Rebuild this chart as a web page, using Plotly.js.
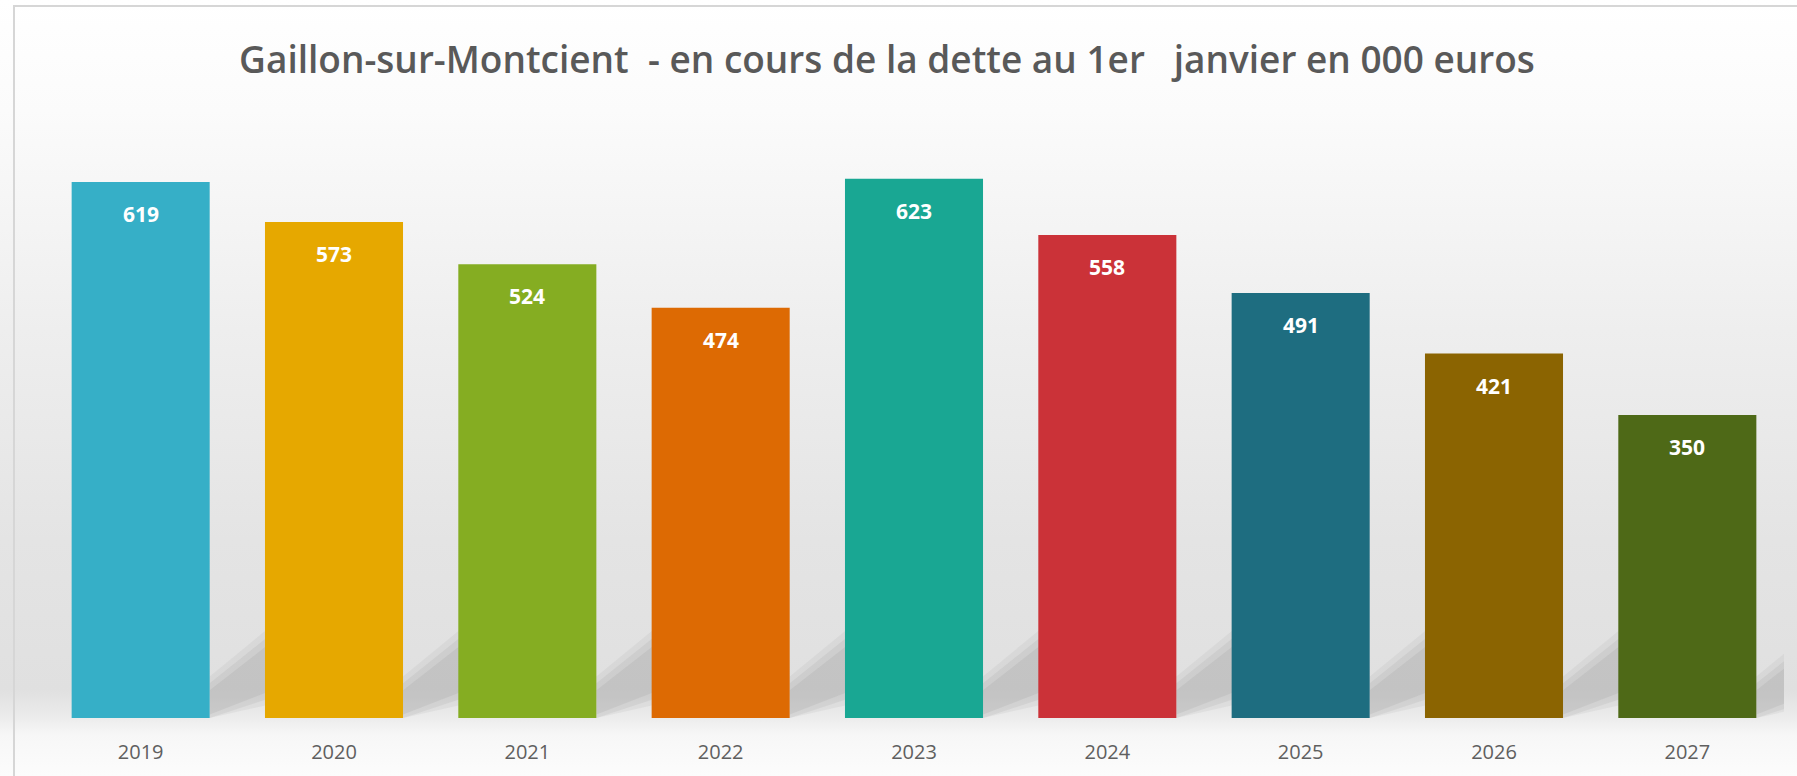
<!DOCTYPE html>
<html>
<head>
<meta charset="utf-8">
<script src="https://cdn.plot.ly/plotly-3.0.1.min.js"></script>
<style>
  html, body { margin: 0; padding: 0; background: #ffffff; }
  #wrap {
    position: relative; width: 1797px; height: 776px; overflow: hidden;
    background: linear-gradient(to bottom, #ffffff 0px, #fbfbfb 110px, #eeeeee 330px, #e4e4e4 540px, #e0e0e0 690px, #ebebeb 716px, #f7f7f7 735px, #fcfcfc 776px);
  }
  #frame {
    position: absolute; left: 13px; top: 5px; width: 1800px; height: 800px;
    border-left: 2px solid #d6d6d6; border-top: 2px solid #d6d6d6; pointer-events: none;
  }
  #chart { position: absolute; left: 0; top: 0; width: 1797px; height: 776px; }
</style>
</head>
<body>
<div id="wrap">
  <div id="chart"></div>
  <div id="frame"></div>
</div>
<script>
const years = ["2019", "2020", "2021", "2022", "2023", "2024", "2025", "2026", "2027"];
const debt = [619, 573, 524, 474, 623, 558, 491, 421, 350];
const barColors = ["#36afc7", "#e6a800", "#85ad22", "#dd6a03", "#19a793", "#cb3238", "#1e6d80", "#8b6401", "#4e6917"];
const chartTitle = "Gaillon-sur-Montcient \u00a0- en cours de la dette au 1er \u00a0\u00a0janvier en 000 euros";

const bargap = 0.286;
const half = (1 - bargap) / 2;

const trace = {
  type: "bar",
  x: years,
  y: debt,
  marker: { color: barColors, line: { width: 0 } },
  hoverinfo: "x+y"
};

const annotations = years.map((yr, i) => ({
  x: i, y: debt[i], xref: "x", yref: "y",
  text: String(debt[i]), showarrow: false,
  yanchor: "middle", yshift: -32,
  font: { family: "Open Sans, sans-serif", size: 21, color: "#ffffff", weight: 700 }
}));

// soft floor shadows cast to the back-right of each bar (decoration)
const shadows = [];
years.forEach((yr, i) => {
  const xl = i + half;            // right edge of the bar
  const xr = i + 1 - half + 0.15; // a little behind the next bar
  const layers = [
    { a: 0.08, t0: 48, t1: 128, b0: 0, b1: 22 },
    { a: 0.10, t0: 40, t1: 118, b0: 0, b1: 32 },
    { a: 0.12, t0: 32, t1: 108, b0: 4, b1: 42 }
  ];
  layers.forEach(L => {
    shadows.push({
      type: "path", xref: "x", yref: "y", layer: "below",
      path: `M ${xl} ${L.b0} L ${xl} ${L.t0} L ${xr} ${L.t1} L ${xr} ${L.b1} Z`,
      fillcolor: `rgba(120,120,120,${L.a})`, line: { width: 0 }
    });
  });
});

const layout = {
  width: 1797, height: 776,
  margin: { l: 44, r: 13, t: 112, b: 58 },
  paper_bgcolor: "rgba(0,0,0,0)",
  plot_bgcolor: "rgba(0,0,0,0)",
  showlegend: false,
  bargap: bargap,
  title: {
    text: chartTitle,
    xref: "container", x: 0.4936, xanchor: "center",
    yref: "container", y: 0.922, yanchor: "middle",
    font: { family: "Open Sans, sans-serif", size: 37, color: "#595959", weight: 600 }
  },
  xaxis: {
    type: "category",
    range: [-0.5, 8.5],
    showgrid: false, zeroline: false, showline: false, ticks: "",
    tickfont: { family: "Open Sans, sans-serif", size: 20, color: "#5f5f5f" },
    ticklabelstandoff: 20
  },
  yaxis: {
    range: [0, 700],
    visible: false, showgrid: false, zeroline: false
  },
  shapes: shadows,
  annotations: annotations
};

Plotly.newPlot("chart", [trace], layout, { displayModeBar: false, staticPlot: true });
</script>
</body>
</html>
